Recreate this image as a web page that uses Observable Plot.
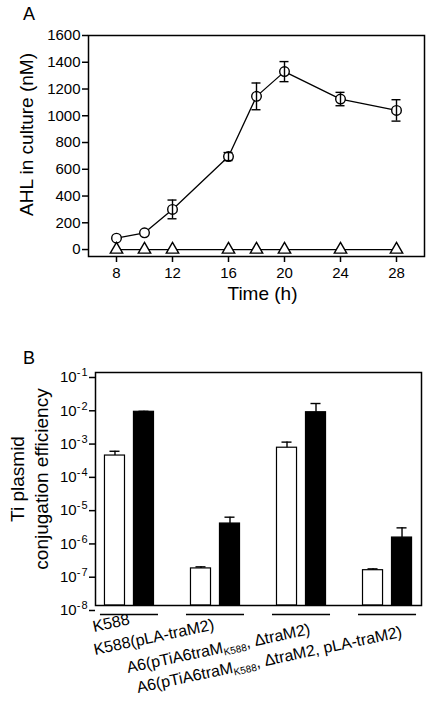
<!DOCTYPE html>
<html><head><meta charset="utf-8">
<script src="https://cdn.jsdelivr.net/npm/d3@7"></script>
<script src="https://cdn.jsdelivr.net/npm/@observablehq/plot@0.6"></script>
<style>
body{margin:0;background:#fff;font-family:"Liberation Sans",Arial,sans-serif;color:#000;}
#wrap{position:relative;width:430px;height:704px;overflow:hidden;background:#fff;}
.panel{position:absolute;left:0;}
.glabel{position:absolute;font-size:16px;white-space:nowrap;line-height:1;transform-origin:0 13.5px;transform:rotate(-12deg);}
.glabel .sb{font-size:10px;position:relative;top:3px;}
</style></head>
<body><div id="wrap"><div id="pa" class="panel" style="top:0"></div><div id="pb" class="panel" style="top:340px"></div></div>
<script>
// ---- Panel A data ----
const times = [8, 10, 12, 16, 18, 20, 24, 28];
const ahlWT = [85, 125, 300, 695, 1145, 1330, 1125, 1040];
const ahlWTErr = [0, 0, 70, 30, 100, 75, 50, 80];
const ahlMutant = [0, 0, 0, 0, 0, 0, 0, 0];
const xTicksA = [8, 12, 16, 20, 24, 28];
const yTicksA = [0, 200, 400, 600, 800, 1000, 1200, 1400, 1600];

// ---- Panel B data ----
const strains = ["K588", "K588(pLA-traM2)", "A6(pTiA6traMK588, ΔtraM2)", "A6(pTiA6traMK588, ΔtraM2, pLA-traM2)"];
const strainLabels = ["K588", "K588(pLA-traM2)", "A6(pTiA6traM<span class='sb'>K588</span>, ΔtraM2)", "A6(pTiA6traM<span class='sb'>K588</span>, ΔtraM2, pLA-traM2)"];
const effOpen = [3.2e-4, 1.3e-7, 5.5e-4, 1.15e-7];
const effOpenUpper = [4.3e-4, 1.45e-7, 8.1e-4, 1.26e-7];
const effFilled = [6.6e-3, 2.9e-6, 6.4e-3, 1.1e-6];
const effFilledUpper = [6.8e-3, 4.5e-6, 1.17e-2, 2.15e-6];
const yTicksB = [1e-8, 1e-7, 1e-6, 1e-5, 1e-4, 1e-3, 1e-2, 1e-1];

// layout for rotated strain labels (baseline-left in page px)
const labelPos = [[94, 632], [95, 655], [128, 673], [138, 693]];

const FONT = "'Liberation Sans', Arial, sans-serif";

const dataA = times.map((t, i) => ({t, v: ahlWT[i], e: ahlWTErr[i], m: ahlMutant[i]}));
const errA = dataA.filter(d => d.e > 0);

const plotA = Plot.plot({
  width: 430, height: 305,
  marginLeft: 88, marginRight: 6, marginTop: 35, marginBottom: 49,
  style: {fontFamily: FONT, fontSize: "15px", color: "#000", background: "transparent", overflow: "visible"},
  x: {domain: [6, 30]},
  y: {domain: [-52, 1600]},
  marks: [
    Plot.frame({stroke: "#000", strokeWidth: 1.5}),
    Plot.axisX({ticks: xTicksA, tickSize: 6, tickPadding: 5, label: null, fontSize: 15, strokeWidth: 1.5, tickFormat: d3.format("d")}),
    Plot.axisY({ticks: yTicksA, tickSize: 6, tickPadding: 2, label: null, fontSize: 15, strokeWidth: 1.5, tickFormat: d3.format("d")}),
    Plot.line(dataA, {x: "t", y: "m", stroke: "#000", strokeWidth: 1.3}),
    Plot.line(dataA, {x: "t", y: "v", stroke: "#000", strokeWidth: 1.3}),
    Plot.dot(dataA, {x: "t", y: "v", r: 4.8, fill: "white", stroke: "#000", strokeWidth: 1.4}),
    Plot.dot(dataA, {x: "t", y: "m", symbol: "triangle", r: 4.6, fill: "white", stroke: "#000", strokeWidth: 1.4}),
    Plot.ruleX(errA, {x: "t", y1: d => d.v - d.e, y2: d => d.v + d.e, stroke: "#000", strokeWidth: 1.4}),
    Plot.ruleY(errA, {x1: "t", x2: "t", y: d => d.v + d.e, insetLeft: -4.5, insetRight: -4.5, stroke: "#000", strokeWidth: 1.4}),
    Plot.ruleY(errA, {x1: "t", x2: "t", y: d => d.v - d.e, insetLeft: -4.5, insetRight: -4.5, stroke: "#000", strokeWidth: 1.4}),
    Plot.text(["Time (h)"], {text: d => d, frameAnchor: "bottom", textAnchor: "middle", lineAnchor: "middle", dx: 6, dy: 37, fontSize: 19}),
    Plot.text(["AHL in culture (nM)"], {text: d => d, frameAnchor: "left", textAnchor: "middle", lineAnchor: "middle", rotate: -90, dx: -61.5, dy: -11.5, fontSize: 19}),
    Plot.text(["A"], {text: d => d, frameAnchor: "top-left", textAnchor: "middle", lineAnchor: "middle", dx: -59.5, dy: -21.5, fontSize: 18})
  ]
});
document.getElementById("pa").appendChild(plotA);

const dataB = strains.map((g, i) => ({g, w: effOpen[i], wu: effOpenUpper[i], b: effFilled[i], bu: effFilledUpper[i]}));
const base = yTicksB[0];

const plotB = Plot.plot({
  width: 430, height: 280,
  marginLeft: 95, marginRight: 9, marginTop: 32, marginBottom: 15,
  style: {fontFamily: FONT, fontSize: "15px", color: "#000", background: "transparent", overflow: "visible"},
  x: {domain: strains, paddingInner: 0.43, paddingOuter: 0.11, round: false, axis: null},
  y: {type: "log", domain: [1e-8, 1e-1]},
  marks: [
    Plot.barY(dataB, {x: "g", y1: base, y2: "w", insetRight: 29, fill: "white", stroke: "#000", strokeWidth: 1.2}),
    Plot.barY(dataB, {x: "g", y1: base, y2: "b", insetLeft: 29, fill: "#000", stroke: "#000", strokeWidth: 1.2}),
    Plot.ruleX(dataB, {x: "g", y1: "w", y2: "wu", dx: -14.5, stroke: "#000", strokeWidth: 1.4}),
    Plot.tickY(dataB, {x: "g", y: "wu", insetLeft: 5, insetRight: 34, stroke: "#000", strokeWidth: 1.4}),
    Plot.ruleX(dataB, {x: "g", y1: "b", y2: "bu", dx: 14.5, stroke: "#000", strokeWidth: 1.4}),
    Plot.tickY(dataB, {x: "g", y: "bu", insetLeft: 34, insetRight: 5, stroke: "#000", strokeWidth: 1.4}),
    Plot.frame({stroke: "#000", strokeWidth: 1.5}),
    Plot.axisY({ticks: yTicksB, tickSize: 6, tickPadding: 1, label: null, fontSize: 15, strokeWidth: 1.5, dy: 5,
      tickFormat: d => "10^" + Math.round(Math.log10(d))}),
    Plot.tickY(dataB, {x: "g", y: base, dy: 9, insetLeft: -4.5, insetRight: -4.5, stroke: "#000", strokeWidth: 1.6}),
    Plot.text(["Ti plasmid\nconjugation efficiency"], {text: d => d, frameAnchor: "left", textAnchor: "middle", lineAnchor: "middle", rotate: -90, dx: -67.5, dy: -10, fontSize: 19, lineHeight: 1.3}),
    Plot.text(["B"], {text: d => d, frameAnchor: "top-left", textAnchor: "middle", lineAnchor: "middle", dx: -66.5, dy: -14.5, fontSize: 18})
  ]
});
document.getElementById("pb").appendChild(plotB);

// superscript exponents on the log tick labels
d3.select(plotB).selectAll('g[aria-label="y-axis tick label"] text').each(function() {
  const s = d3.select(this).text();
  const [b, e] = s.split("^");
  if (e === undefined) return;
  const t = d3.select(this);
  t.text(null);
  t.append("tspan").text(b);
  t.append("tspan").attr("font-size", 11).attr("dy", "-0.55em").attr("letter-spacing", 1).text(e);
});

// rotated strain labels below panel B
const wrap = document.getElementById("wrap");
strainLabels.forEach((html, i) => {
  const el = document.createElement("div");
  el.className = "glabel";
  el.innerHTML = html;
  el.style.left = labelPos[i][0] + "px";
  el.style.top = (labelPos[i][1] - 13.5) + "px";
  wrap.appendChild(el);
});
</script>
</body></html>
